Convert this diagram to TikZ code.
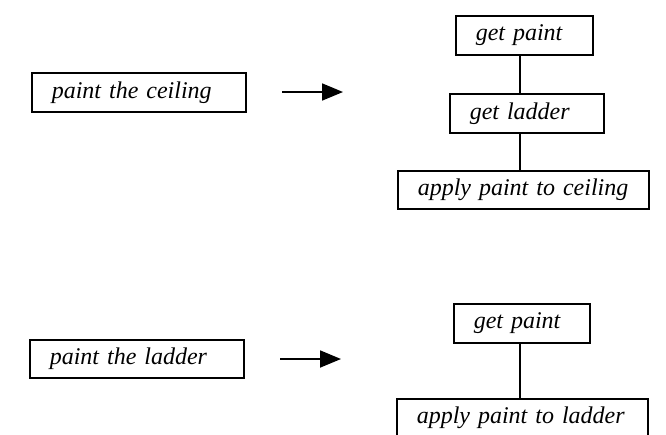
\documentclass[tikz,border=0pt]{standalone}
\usepackage{fontspec}
\setmainfont{Liberation Serif}[WordSpace=0.75]
\usetikzlibrary{arrows.meta}

\tikzset{
  task/.style={draw, line width=1.5pt, anchor=north west, inner xsep=20pt,
    inner ysep=0pt, align=left, font=\fontsize{24}{27}\selectfont\itshape},
  % text width #1 (box width less 40pt of padding), box height #2
  taskbox/.style 2 args={text width=#1, minimum height=#2},
  refine/.style={line width=1.8pt, -{Triangle[length=21pt,width=17pt]}},
  link/.style={line width=1.3pt}
}

\begin{document}
\begin{tikzpicture}[x=1pt, y=-1pt]
  \clip (0,0) rectangle (666,434);
  \fill[white] (0,0) rectangle (666,434);

  % first task and its refinement
  \node[task, taskbox={174pt}{39pt}] (pc) at (31,72) {paint the ceiling};
  \node[task, taskbox={97pt}{39pt}] (gp1) at (455,15) {get paint};
  \node[task, taskbox={114pt}{39pt}] (gl) at (449,93) {get ladder};
  \node[task, taskbox={211pt}{38pt}] (ac) at (397,170) {apply paint to ceiling};

  \coordinate (a1s) at (282,92);
  \coordinate (a1e) at (343,92);
  \draw[refine] (a1s) -- (a1e);

  \coordinate (spine1) at (520,0);
  \draw[link] (gp1.south -| spine1) -- (gl.north -| spine1);
  \draw[link] (gl.south -| spine1) -- (ac.north -| spine1);

  % second task and its refinement
  \node[task, taskbox={174pt}{38pt}] (pl) at (29,339) {paint the ladder};
  \node[task, taskbox={96pt}{39pt}] (gp2) at (453,303) {get paint};
  \node[task, taskbox={211pt}{38pt}] (al) at (396,398) {apply paint to ladder};

  \coordinate (a2s) at (280,359);
  \coordinate (a2e) at (341,359);
  \draw[refine] (a2s) -- (a2e);

  \coordinate (spine2) at (520,0);
  \draw[link] (gp2.south -| spine2) -- (al.north -| spine2);
\end{tikzpicture}
\end{document}
